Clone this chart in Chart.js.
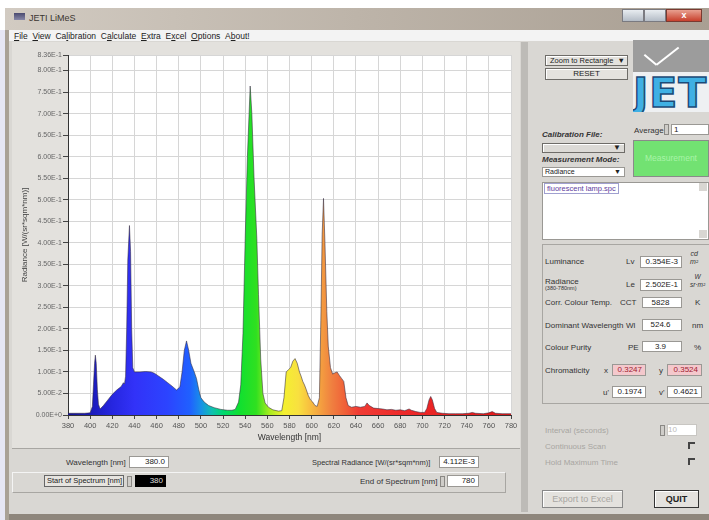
<!DOCTYPE html>
<html><head><meta charset="utf-8">
<script src="https://cdn.jsdelivr.net/npm/chart.js@4"></script>
<style>
body{margin:0;width:709px;height:520px;overflow:hidden;background:#fff;font-family:"Liberation Sans",Arial,sans-serif;font-size:9px;color:#222;position:relative}
.a{position:absolute;white-space:nowrap}
.box{position:absolute;background:#fff;border:1px solid #9a9894;box-sizing:border-box;text-align:right;padding-right:3px;line-height:10px;font-size:8px;white-space:nowrap}
.btn{position:absolute;background:#e4e2de;border:1px solid #6e6c68;box-shadow:inset 1px 1px 0 #fff;box-sizing:border-box;text-align:center;font-size:8px;white-space:nowrap;overflow:hidden}
.lbl{position:absolute;font-size:8px;color:#333;white-space:nowrap}
.gray{color:#a8a6a2}
.spin{position:absolute;width:5px;height:11px;background:#cfcdc9;border:1px solid #8a8884;box-sizing:border-box}
.chk{position:absolute;width:7px;height:7px;border-left:2px solid #444;border-top:2px solid #444;box-sizing:border-box}
u{text-decoration:underline}
</style></head><body>
<div class="a" style="left:0;top:30px;width:6px;height:490px;background:#e6e6f4"></div>
<div class="a" style="left:5px;top:8px;width:704px;height:512px;background:#a9a196"></div>
<div class="a" style="left:5px;top:8px;width:704px;height:22px;background:linear-gradient(to right,#d2cbc2,#bdb4a9 50%,#a99f93)"></div>
<div class="a" style="left:14px;top:13px;width:11px;height:7px;background:linear-gradient(#4a4a70,#8888a8)"></div>
<div class="a" style="left:29px;top:13px;font-size:9px;color:#3a3530">JETI LiMeS</div>
<div class="a" style="left:622px;top:9px;width:22px;height:13px;background:linear-gradient(#e8ecf0,#b4bcc6);border:1px solid #7a7a80;box-sizing:border-box"></div>
<div class="a" style="left:644px;top:9px;width:22px;height:13px;background:linear-gradient(#e8ecf0,#b4bcc6);border:1px solid #7a7a80;box-sizing:border-box"></div>
<div class="a" style="left:666px;top:9px;width:36px;height:13px;background:linear-gradient(#e8a090,#c8402c);border:1px solid #7a3a30;box-sizing:border-box;color:#fff;text-align:center;font-size:9px;line-height:11px;font-weight:bold">x</div>
<div class="a" style="left:9px;top:30px;width:700px;height:11px;background:#f3f3f3"></div>
<div class="a" style="left:14px;top:31px;font-size:8.5px;color:#222;word-spacing:0"><u>F</u>ile&nbsp;&nbsp;<u>V</u>iew&nbsp;&nbsp;Ca<u>l</u>ibration&nbsp;&nbsp;C<u>a</u>lculate&nbsp;&nbsp;<u>E</u>xtra&nbsp;&nbsp;E<u>x</u>cel&nbsp;&nbsp;<u>O</u>ptions&nbsp;&nbsp;A<u>b</u>out!</div>
<div class="a" style="left:9px;top:41px;width:700px;height:474px;background:#d9d7d3"></div>
<div class="a" style="left:12px;top:42px;width:508px;height:406px;background:#e3e1dd;border-bottom:1px solid #a8a6a2"></div>
<div class="a" style="left:521px;top:42px;width:7px;height:470px;background:#bdbbb7"></div>
<canvas id="c" class="a" width="508" height="406" style="left:12px;top:42px"></canvas>

<div class="lbl" style="left:66px;top:458px">Wavelength [nm]</div>
<div class="box" style="left:129px;top:456px;width:40px;height:12px">380.0</div>
<div class="lbl" style="left:312px;top:458px;font-size:7.5px">Spectral Radiance [W/(sr*sqm*nm)]</div>
<div class="box" style="left:439px;top:456px;width:40px;height:12px">4.112E-3</div>
<div class="a" style="left:12px;top:472px;width:494px;height:21px;border:1px solid #a8a6a2;border-top-color:#f4f4f4;border-left-color:#f4f4f4;box-sizing:border-box"></div>
<div class="a" style="left:44px;top:475px;width:80px;height:12px;border:1px solid #666;box-sizing:border-box;font-size:7.5px;line-height:10px;padding-left:2px;background:#e6e4e0;overflow:hidden">Start of Spectrum [nm]</div>
<div class="spin" style="left:127px;top:476px"></div>
<div class="a" style="left:135px;top:475px;width:31px;height:12px;background:#000;color:#ddd;font-size:8px;text-align:right;line-height:12px;padding-right:3px;box-sizing:border-box">380</div>
<div class="lbl" style="left:360px;top:477px">End of Spectrum [nm]</div>
<div class="spin" style="left:440px;top:476px"></div>
<div class="box" style="left:447px;top:475px;width:32px;height:12px">780</div>
<div class="a" style="left:9px;top:514px;width:700px;height:6px;background:#8e867c"></div>

<div class="btn" style="left:545px;top:55px;width:83px;height:11px;line-height:9px;text-align:left;padding-left:4px;font-size:7.5px">Zoom to Rectangle <span style="float:right;padding-right:2px">▼</span></div>
<div class="btn" style="left:545px;top:68px;width:83px;height:12px;line-height:10px">RESET</div>
<div class="a" style="left:633px;top:40px;width:76px;height:32px;background:#9c9c9c;overflow:hidden">
 <div class="a" style="left:12px;top:14px;width:16px;height:2px;background:#fff;transform:rotate(40deg);transform-origin:0 0"></div>
 <div class="a" style="left:23px;top:24px;width:28px;height:2px;background:#fff;transform:rotate(-38deg);transform-origin:0 0"></div>
</div>
<div class="a" style="left:633px;top:72px;width:76px;height:40px;background:#eef0f2;overflow:hidden">
 <div class="a" style="left:0;top:-3px;font-size:41px;font-weight:bold;color:#3fb0e4;-webkit-text-stroke:1.5px #1c4a78;letter-spacing:1px;font-family:'DejaVu Sans'">JETI</div>
</div>
<div class="lbl" style="left:542px;top:130px;font-weight:bold;font-style:italic;color:#333">Calibration File:</div>
<div class="lbl" style="left:634px;top:126px">Average</div>
<div class="spin" style="left:664px;top:124px"></div>
<div class="box" style="left:671px;top:124px;width:38px;height:11px;text-align:left;padding-left:2px">1</div>
<div class="btn" style="left:542px;top:143px;width:83px;height:10px;background:#dcdad6;text-align:right;line-height:8px;padding-right:3px">▼</div>
<div class="lbl" style="left:542px;top:155px;font-weight:bold;font-style:italic;color:#333">Measurement Mode:</div>
<div class="box" style="left:542px;top:167px;width:83px;height:10px;text-align:left;padding-left:2px;line-height:8px;font-size:7px">Radiance<span style="float:right">▼</span></div>
<div class="a" style="left:633px;top:140px;width:76px;height:37px;background:#72e272;border:1px solid #8a8a8a;box-sizing:border-box;color:#a8f4a8;text-align:center;line-height:35px;font-size:8.5px">Measurement</div>
<div class="a" style="left:542px;top:182px;width:167px;height:58px;background:#fff;border:1px solid #9a9894;box-sizing:border-box"></div>
<div class="a" style="left:544px;top:183px;border:1px solid #a0a0d0;font-size:7.5px;color:#6040a0;padding:0 2px;line-height:9px">fluorescent lamp.spc</div>
<div class="a" style="left:699px;top:183px;width:8px;height:8px;background:#d8d6d2"></div>
<div class="a" style="left:699px;top:230px;width:8px;height:8px;background:#d8d6d2"></div>

<div class="a" style="left:542px;top:244px;width:167px;height:160px;border:1px solid #a8a6a2;border-right:none;box-sizing:border-box"></div>
<div class="lbl" style="left:545px;top:257px">Luminance</div>
<div class="lbl" style="left:626px;top:257px">Lv</div>
<div class="box" style="left:640px;top:256px;width:42px;height:12px">0.354E-3</div>
<div class="lbl" style="left:690px;top:250px;font-size:7px;font-style:italic;line-height:8px;text-align:center">cd<br>m²</div>
<div class="lbl" style="left:545px;top:277px">Radiance</div>
<div class="lbl" style="left:545px;top:285px;font-size:5.5px">(380-780nm)</div>
<div class="lbl" style="left:626px;top:280px">Le</div>
<div class="box" style="left:640px;top:279px;width:42px;height:12px">2.502E-1</div>
<div class="lbl" style="left:690px;top:273px;font-size:6.5px;font-style:italic;line-height:8px;text-align:center">W<br>sr·m²</div>
<div class="lbl" style="left:545px;top:298px">Corr. Colour Temp.</div>
<div class="lbl" style="left:620px;top:298px">CCT</div>
<div class="box" style="left:642px;top:297px;width:40px;height:11px;text-align:center">5828</div>
<div class="lbl" style="left:695px;top:298px">K</div>
<div class="lbl" style="left:545px;top:321px">Dominant Wavelength</div>
<div class="lbl" style="left:626px;top:321px">Wl</div>
<div class="box" style="left:642px;top:319px;width:40px;height:12px;text-align:center">524.6</div>
<div class="lbl" style="left:692px;top:321px">nm</div>
<div class="lbl" style="left:545px;top:343px">Colour Purity</div>
<div class="lbl" style="left:628px;top:343px">PE</div>
<div class="box" style="left:642px;top:341px;width:40px;height:11px;text-align:center">3.9</div>
<div class="lbl" style="left:694px;top:343px">%</div>
<div class="lbl" style="left:545px;top:366px">Chromaticity</div>
<div class="lbl" style="left:604px;top:366px">x</div>
<div class="box" style="left:612px;top:364px;width:34px;height:12px;background:#f4c8cc;color:#a02030">0.3247</div>
<div class="lbl" style="left:659px;top:366px">y</div>
<div class="box" style="left:667px;top:364px;width:35px;height:12px;background:#f4c8cc;color:#a02030">0.3524</div>
<div class="lbl" style="left:603px;top:388px">u'</div>
<div class="box" style="left:612px;top:386px;width:34px;height:12px">0.1974</div>
<div class="lbl" style="left:659px;top:388px">v'</div>
<div class="box" style="left:667px;top:386px;width:35px;height:12px">0.4621</div>

<div class="lbl gray" style="left:545px;top:426px">Interval (seconds)</div>
<div class="spin" style="left:660px;top:425px"></div>
<div class="box" style="left:667px;top:424px;width:30px;height:12px;text-align:left;color:#bbb;border-color:#c8c6c2">10</div>
<div class="lbl gray" style="left:545px;top:442px">Continuous Scan</div>
<div class="chk" style="left:688px;top:442px"></div>
<div class="lbl gray" style="left:545px;top:458px">Hold Maximum Time</div>
<div class="chk" style="left:688px;top:458px"></div>
<div class="btn gray" style="left:542px;top:490px;width:81px;height:18px;line-height:16px;font-size:9px;border-color:#888">Export to Excel</div>
<div class="btn" style="left:654px;top:490px;width:45px;height:18px;line-height:16px;font-size:9px;font-weight:bold;border-color:#333">QUIT</div>

<script>
const wavelengths = [380,385,390,395,400,402,403,404,404.7,405.5,406.5,407.5,409,412,416,420,424,428,430,431,432,433,434,435.5,436.5,437.5,438.5,440,445,450,455,458,462,466,470,474,478,481,483,485,487,489,491,494,496,498,500,503,507,512,518,524,528,531,534,536,538,540,542,544.5,546,548,550.5,552,554,556,558,561,565,570,573,575,577,579,581,583,585,587,589,590.5,592,593.5,595,597,599,601,603,605,607,608.3,609.5,610.7,612,613.7,615,617,619,621,623,625,627,629,631,633,636,640,644,648,650,652,656,660,664,668,672,676,680,684,688,690,694,698,702,704,706,707.5,709,711,713,718,724,730,736,742,745,748,755,760,763,766,772,780];
const radiance = [0.004,0.004,0.004,0.004,0.005,0.02,0.07,0.12,0.139,0.12,0.06,0.025,0.014,0.022,0.035,0.048,0.058,0.066,0.075,0.072,0.09,0.2,0.36,0.44,0.38,0.2,0.11,0.1,0.1,0.101,0.1,0.097,0.09,0.083,0.075,0.067,0.058,0.065,0.1,0.15,0.172,0.15,0.12,0.1,0.085,0.06,0.04,0.03,0.022,0.017,0.013,0.011,0.011,0.013,0.03,0.07,0.19,0.41,0.6,0.764,0.7,0.55,0.41,0.28,0.13,0.05,0.028,0.018,0.012,0.009,0.01,0.04,0.1,0.105,0.11,0.125,0.131,0.12,0.1,0.09,0.078,0.07,0.06,0.045,0.035,0.03,0.022,0.02,0.04,0.22,0.42,0.503,0.4,0.24,0.16,0.11,0.095,0.098,0.1,0.092,0.085,0.078,0.04,0.022,0.018,0.02,0.018,0.02,0.028,0.022,0.016,0.015,0.014,0.012,0.013,0.011,0.012,0.01,0.014,0.011,0.008,0.006,0.006,0.015,0.035,0.043,0.035,0.015,0.006,0.004,0.003,0.003,0.003,0.004,0.006,0.004,0.003,0.005,0.008,0.004,0.003,0.003];
const xTicks = [380,400,420,440,460,480,500,520,540,560,580,600,620,640,660,680,700,720,740,760,780];
const yTicks = [0,0.05,0.1,0.15,0.2,0.25,0.3,0.35,0.4,0.45,0.5,0.55,0.6,0.65,0.7,0.75,0.8,0.836];

const colourStops = [[380,'#14148c'],[400,'#1a1ab8'],[420,'#2626e0'],[440,'#3232f8'],[470,'#2c44ff'],[490,'#2060ff'],[500,'#1890e8'],[510,'#10c0b0'],[520,'#00d870'],[535,'#10e030'],[550,'#30e020'],[562,'#a8ec20'],[575,'#f4f030'],[588,'#f8e040'],[598,'#f8c040'],[608,'#f4a040'],[618,'#f08040'],[630,'#f06038'],[642,'#f03c34'],[680,'#ee2a2a'],[780,'#e01818']];

function spectrumFill(ctx){
  const chart = ctx.chart;
  if(!chart.chartArea) return '#3030f0';
  const xs = chart.scales.x;
  const x0 = xs.getPixelForValue(380), x1 = xs.getPixelForValue(780);
  const g = chart.ctx.createLinearGradient(x0,0,x1,0);
  colourStops.forEach(([w,c])=>g.addColorStop((w-380)/400,c));
  return g;
}

const plotBg = {id:'plotBg',beforeDraw(chart){const {ctx,chartArea:a}=chart;ctx.save();ctx.fillStyle='#ffffff';ctx.fillRect(a.left,a.top,a.right-a.left,a.bottom-a.top);ctx.restore();}};

new Chart(document.getElementById('c'),{
  type:'line',
  data:{datasets:[{data:wavelengths.map((w,i)=>({x:w,y:radiance[i]})),fill:'origin',backgroundColor:spectrumFill,borderColor:'rgba(50,40,60,0.55)',borderWidth:1,pointRadius:0,tension:0}]},
  options:{
    responsive:false,animation:false,
    layout:{padding:{left:0,right:9,top:13,bottom:2}},
    plugins:{legend:{display:false},tooltip:{enabled:false}},
    scales:{
      x:{type:'linear',min:380,max:780,
        afterBuildTicks:s=>{s.ticks=xTicks.map(v=>({value:v}));},
        afterFit:s=>{s.height=31;},
        grid:{color:'#d6d6d6',tickColor:'#444',tickLength:4,drawOnChartArea:true},
        border:{color:'#333',width:1},
        ticks:{font:{family:'Liberation Sans',size:7.5},color:'#555',padding:2,maxRotation:0,autoSkip:false},
        title:{display:true,text:'Wavelength [nm]',font:{family:'Liberation Sans',size:8.5},color:'#333',padding:{top:0,bottom:3}}},
      y:{type:'linear',min:0,max:0.836,
        afterBuildTicks:s=>{s.ticks=yTicks.map(v=>({value:v}));},
        afterFit:s=>{s.width=56;},
        grid:{color:'#d6d6d6',tickColor:'#444',tickLength:5},
        border:{color:'#333',width:1},
        ticks:{font:{family:'Liberation Sans',size:7},color:'#666',padding:1,autoSkip:false,
          callback:v=>v.toExponential(2).replace('e','E')},
        title:{display:true,text:'Radiance [W/(sr*sqm*nm)]',font:{family:'Liberation Sans',size:8},color:'#444',padding:{top:8,bottom:0}}}
    }
  },
  plugins:[plotBg]
});
</script>
</body></html>
